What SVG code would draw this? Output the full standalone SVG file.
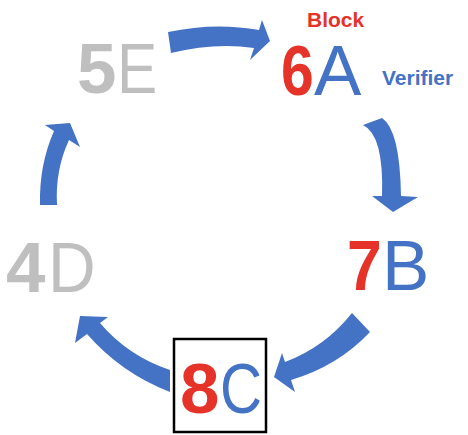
<svg xmlns="http://www.w3.org/2000/svg" width="468" height="435" viewBox="0 0 468 435">
<style>
text{font-family:"Liberation Sans",Arial,sans-serif}
.big{font-size:71px}
.num{font-weight:bold}
.red{fill:#E5332A}
.blue{fill:#4472C4}
.gray{fill:#BFBFBF}
.arrow{fill:#4472C4}
.lbl{font-size:21px;font-weight:bold}
</style>
<rect width="468" height="435" fill="#ffffff"/>
<g id="connectors">
<path class="arrow" d="M168,32 Q215,22 259,30 L262,20 L270,41 L250,60 L254,48 Q215,42 171,53 Z"/>
<path class="arrow" d="M363,125 L382,118 Q400,130 401,196 L418,197 L393,212 L372,196 L382,196 Q384,135 363,125 Z"/>
<path class="arrow" d="M352,313 Q325,347 285,362 L282,353 L274,377 L295,392 L291,380 Q338,366 370,332 Z"/>
<path class="arrow" d="M170,370 Q128,356 100,323 L108,317 L80,316 L75,343 L87,334 Q121,373 170,392 Z"/>
<path class="arrow" d="M40,205 Q39,165 54,131 L45,125 L70,123 L80,147 L69,140 Q55,170 57,205 Z"/>
</g>
<g id="node-6A">
<text x="307" y="27" class="lbl red">Block</text>
<text transform="translate(281,95) scale(0.83,1)" class="big num red">6</text>
<text x="314" y="95" class="big blue">A</text>
<text x="382" y="85" class="lbl blue" font-size="22">Verifier</text>
</g>
<g id="node-7B">
<text transform="translate(347,290) scale(0.88,1)" class="big num red">7</text>
<text x="382" y="290" class="big blue">B</text>
</g>
<g id="node-8C">
<rect x="174" y="339" width="92" height="93" fill="none" stroke="#000" stroke-width="2.5"/>
<text x="180" y="413" class="big num red">8</text>
<text transform="translate(220,413) scale(0.82,1)" class="big blue">C</text>
</g>
<g id="node-4D">
<text x="6" y="292" class="big num gray">4</text>
<text transform="translate(48,292) scale(0.93,1)" class="big gray">D</text>
</g>
<g id="node-5E">
<text x="77" y="93" class="big num gray">5</text>
<text transform="translate(117,93) scale(0.85,1)" class="big gray">E</text>
</g>
</svg>
